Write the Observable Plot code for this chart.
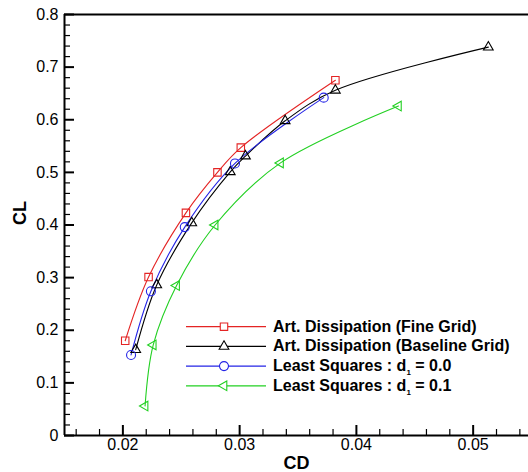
<!DOCTYPE html>
<html>
<head>
<meta charset="utf-8">
<script src="https://cdn.jsdelivr.net/npm/d3@7"></script>
<script src="https://cdn.jsdelivr.net/npm/@observablehq/plot@0.6"></script>
<style>
  html, body { margin: 0; padding: 0; background: white; overflow: hidden; }
  #chart { width: 528px; height: 472px; overflow: hidden; }
</style>
</head>
<body>
<div id="chart"></div>
<script>
// ---- data ----
const seriesNames = [
  "Art. Dissipation (Fine Grid)",
  "Art. Dissipation (Baseline Grid)",
  "Least Squares : d_1 = 0.0",
  "Least Squares : d_1 = 0.1"
];
const fineCD = [0.0202, 0.0222, 0.0254, 0.0281, 0.0301, 0.0382];
const fineCL = [0.180, 0.301, 0.423, 0.500, 0.547, 0.675];
const baseCD = [0.0211, 0.0229, 0.0259, 0.0292, 0.0305, 0.0339, 0.0382, 0.0513];
const baseCL = [0.163, 0.286, 0.404, 0.501, 0.531, 0.598, 0.656, 0.738];
const lsq0CD = [0.0207, 0.0224, 0.0253, 0.0296, 0.0372];
const lsq0CL = [0.153, 0.274, 0.396, 0.517, 0.642];
const lsq1CD = [0.0219, 0.0226, 0.0246, 0.0279, 0.0335, 0.0436];
const lsq1CL = [0.056, 0.172, 0.285, 0.400, 0.518, 0.626];

const xMajorTicks = [0.02, 0.03, 0.04, 0.05];
const yMajorTicks = [0, 0.1, 0.2, 0.3, 0.4, 0.5, 0.6, 0.7, 0.8];
const xDomain = [0.015, 0.05474];
const yDomain = [0, 0.8];
const xLabel = "CD";
const yLabel = "CL";

// ---- styling ----
const colors = ["#e42424", "#000000", "#2424e6", "#22d022"];
const symbols = ["square", "triangle", "circle", "triangle"];
const rotations = [0, 0, 0, -90];
const radii = [4.2, 3.6, 4.5, 3.6];
const d3symbols = {square: d3.symbolSquare, triangle: d3.symbolTriangle, circle: d3.symbolCircle};

const W = 528, H = 472, mT = 14, mB = 37, mL = 64, mR = 0;
const frameW = W - mL - mR, frameH = H - mT - mB;

const seriesData = [
  [fineCD, fineCL], [baseCD, baseCL], [lsq0CD, lsq0CL], [lsq1CD, lsq1CL]
].map(([cd, cl], k) => cd.map((x, i) => ({series: seriesNames[k], cd: x, cl: cl[i]})));

const xMinor = d3.range(16, 55, 2).map(v => v / 1000).filter(v => !xMajorTicks.some(m => Math.abs(m - v) < 1e-9));
const yMinor = d3.range(0, 81, 2).map(v => v / 100).filter(v => !yMajorTicks.some(m => Math.abs(m - v) < 1e-9));

const lineMarks = seriesData.map((d, k) =>
  Plot.line(d, {x: "cd", y: "cl", stroke: colors[k], strokeWidth: 1.1, curve: "catmull-rom"}));
const dotMarks = seriesData.map((d, k) =>
  Plot.dot(d, {x: "cd", y: "cl", stroke: colors[k], fill: "none", strokeWidth: 1.1,
    symbol: symbols[k], r: radii[k], rotate: rotations[k]}));

const fmt = d => String(d);

const svg = Plot.plot({
  width: W,
  height: H,
  marginTop: mT,
  marginBottom: mB,
  marginLeft: mL,
  marginRight: mR,
  x: {domain: xDomain, axis: null},
  y: {domain: yDomain, axis: null},
  style: {fontFamily: "'Liberation Sans', Arial, sans-serif", fontSize: "16px", background: "white", color: "black"},
  marks: [
    // inward ticks
    Plot.ruleX(xMinor, {x: d => d, insetTop: frameH - 6, strokeWidth: 1.2}),
    Plot.ruleX(xMajorTicks, {x: d => d, insetTop: frameH - 10, strokeWidth: 2}),
    Plot.ruleY(yMinor, {y: d => d, insetRight: frameW - 6, strokeWidth: 1.2}),
    Plot.ruleY(yMajorTicks, {y: d => d, insetRight: frameW - 10, strokeWidth: 2}),
    // tick labels
    Plot.axisX({ticks: xMajorTicks, tickSize: 0, tickPadding: 3, label: null, fontSize: 16, tickFormat: fmt}),
    Plot.axisY({ticks: yMajorTicks, tickSize: 0, tickPadding: 6, label: null, fontSize: 16, tickFormat: fmt}),
    // axis titles
    Plot.text([xLabel], {frameAnchor: "bottom", dy: 28, lineAnchor: "middle", fontWeight: "bold", fontSize: 18}),
    Plot.text([yLabel], {frameAnchor: "left", dx: -44, rotate: -90, lineAnchor: "middle", fontWeight: "bold", fontSize: 18}),
    ...lineMarks,
    ...dotMarks,
    // axis lines: bottom, top, left (right edge lies outside the picture)
    Plot.ruleY(yDomain, {strokeWidth: 2}),
    Plot.ruleX([xDomain[0]], {strokeWidth: 2})
  ]
});

// ---- legend ----
const lg = d3.select(svg).append("g").attr("class", "legend").attr("text-anchor", "start");
seriesNames.forEach((name, k) => {
  const y = 326.7 + k * 19.7;
  lg.append("line").attr("x1", 186).attr("x2", 266).attr("y1", y).attr("y2", y)
    .attr("stroke", colors[k]).attr("stroke-width", 1.3);
  lg.append("path")
    .attr("d", d3.symbol(d3symbols[symbols[k]], Math.PI * radii[k] * radii[k])())
    .attr("transform", `translate(224,${y}) rotate(${rotations[k]})`)
    .attr("fill", "white").attr("stroke", colors[k]).attr("stroke-width", 1.1);
  const t = lg.append("text").attr("x", 273).attr("y", y + 5)
    .attr("text-anchor", "start")
    .attr("font-family", "'Liberation Sans', Arial, sans-serif")
    .attr("font-weight", "bold").attr("font-size", 16).attr("fill", "black");
  const m = name.match(/^(.*)_(\d)(.*)$/);
  if (m) {
    t.append("tspan").text(m[1]);
    t.append("tspan").attr("font-size", 8).attr("dy", 4).text(m[2]);
    t.append("tspan").attr("dy", -4).text(m[3]);
  } else {
    t.text(name);
  }
});

document.getElementById("chart").appendChild(svg);
</script>
</body>
</html>
